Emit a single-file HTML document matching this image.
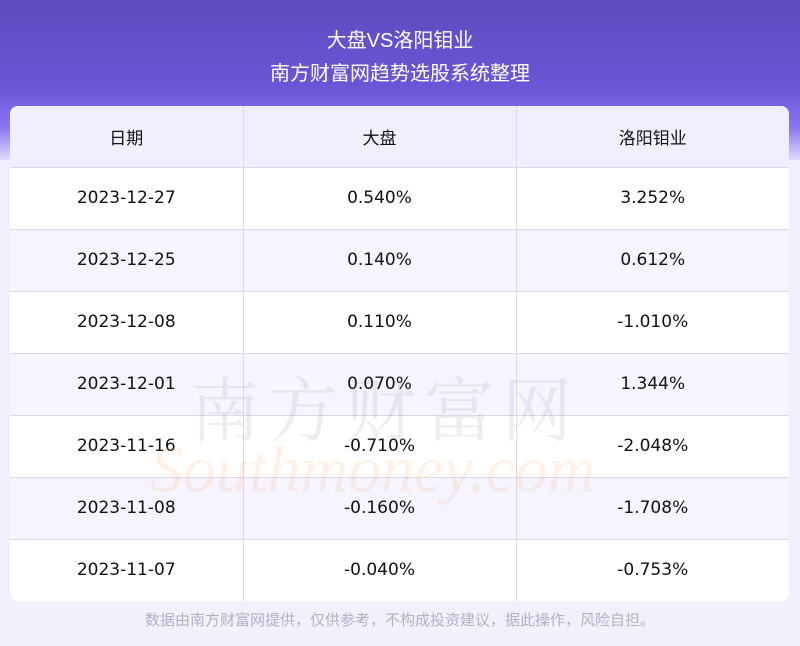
<!DOCTYPE html>
<html><head><meta charset="utf-8"><style>
*{margin:0;padding:0;box-sizing:border-box}
body{width:800px;height:646px;background:#f3f0fe;font-family:"DejaVu Sans","Noto Sans CJK SC",sans-serif;position:relative;overflow:hidden}
.hdr{position:absolute;left:0;top:0;width:800px;height:160px;background:linear-gradient(180deg,#5e4bbf 0%,#6a57d6 55%,#8a76f2 80%,#e0dafa 100%);}
.t{position:absolute;left:0;width:800px;text-align:center;color:#fff;font-size:20px;font-family:"Liberation Sans","Noto Sans CJK SC",sans-serif}
table{position:absolute;left:10px;top:106px;width:779px;border-collapse:collapse;border-radius:8px;overflow:hidden;background:#fff}
td{height:62px;text-align:center;font-size:17px;color:#111;border-right:1px solid #dcd6ee;border-bottom:1px solid #dcd6ee}
td:last-child{border-right:none}
tr:last-child td{border-bottom:none}
tr.h td{background:#f1effd;height:61px}
tr.a td{background:#f6f4fe}
.wm{position:absolute;left:190px;top:355px;font-size:70px;color:rgba(120,120,120,0.13);letter-spacing:8px;font-family:"Noto Serif CJK SC",serif}
.wm2{position:absolute;left:150px;top:432px;font-size:66px;font-style:italic;color:rgba(245,170,100,0.15);font-family:"Liberation Serif",serif}
.f{position:absolute;top:609px;left:0;width:800px;text-align:center;font-size:15px;color:#b3b0c0;font-family:"Liberation Sans","Noto Sans CJK SC",sans-serif}
</style></head><body>
<div class="hdr"></div>
<div class="t" style="top:24px">大盘VS洛阳钼业</div>
<div class="t" style="top:57px">南方财富网趋势选股系统整理</div>
<table>
<colgroup><col style="width:233px"><col style="width:273px"><col style="width:273px"></colgroup>
<tr class="h"><td>日期</td><td>大盘</td><td>洛阳钼业</td></tr>
<tr><td>2023-12-27</td><td>0.540%</td><td>3.252%</td></tr>
<tr class="a"><td>2023-12-25</td><td>0.140%</td><td>0.612%</td></tr>
<tr><td>2023-12-08</td><td>0.110%</td><td>-1.010%</td></tr>
<tr class="a"><td>2023-12-01</td><td>0.070%</td><td>1.344%</td></tr>
<tr><td>2023-11-16</td><td>-0.710%</td><td>-2.048%</td></tr>
<tr class="a"><td>2023-11-08</td><td>-0.160%</td><td>-1.708%</td></tr>
<tr><td>2023-11-07</td><td>-0.040%</td><td>-0.753%</td></tr>
</table>
<div class="wm">南方财富网</div>
<div class="wm2">Southmoney.com</div>
<div class="f">数据由南方财富网提供，仅供参考，不构成投资建议，据此操作，风险自担。</div>
</body></html>
